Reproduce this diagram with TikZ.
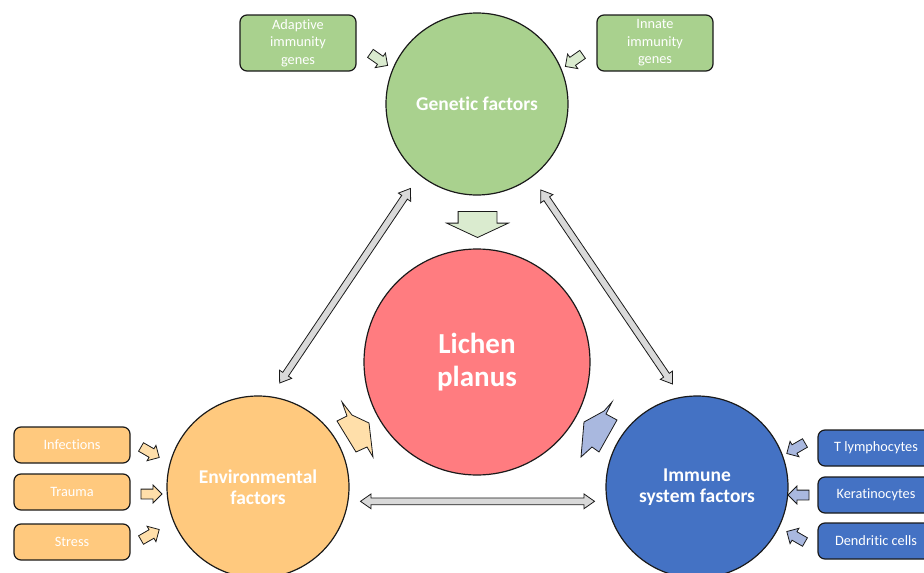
\documentclass[tikz,border=0pt]{standalone}
\usepackage{fontspec}
\setmainfont{Carlito}[Ligatures=NoCommon]
\usetikzlibrary{shapes.arrows, calc}

\definecolor{gengreen}{HTML}{A9D18E}
\definecolor{lichenred}{HTML}{FF7C80}
\definecolor{envorange}{HTML}{FFC97E}
\definecolor{immblue}{HTML}{4472C4}
\definecolor{palegreen}{HTML}{DAEBCF}
\definecolor{paleorange}{HTML}{FFDFAA}
\definecolor{paleblue}{HTML}{A9B8DF}
\definecolor{arrowgray}{HTML}{D9D9D9}
\definecolor{edge}{HTML}{1A1A1A}

\begin{document}
\begin{tikzpicture}[x=1pt, y=-1pt,
  factor/.style={circle, draw=edge, line width=1.2pt, minimum size=182pt, inner sep=0pt,
    text=white, align=center, font=\fontsize{19.5}{21}\selectfont\bfseries},
  cause/.style={rectangle, rounded corners=7pt, draw=edge, line width=1.2pt,
    minimum width=116pt, minimum height=36pt, inner sep=0pt, text=white, align=center,
    font=\fontsize{14.3}{17.5}\selectfont},
  push/.style={single arrow, draw=edge, line width=0.8pt, minimum height=21pt,
    single arrow head extend=4pt, inner xsep=0pt, inner ysep=4.5pt},
  both/.style={double arrow, draw=edge, fill=arrowgray, line width=0.8pt,
    double arrow head extend=4pt, double arrow tip angle=70, inner xsep=0pt, inner ysep=3pt}
]
\useasboundingbox (0,0) rectangle (924,573);

\node[factor, fill=gengreen] (gen) at (477,104) {Genetic factors};
\node[factor, fill=lichenred, minimum size=226pt, font=\fontsize{29}{33}\selectfont\bfseries] (lichen) at (477,362) {Lichen\\planus};
\node[factor, fill=envorange] (env) at (258,487) {Environmental\\factors};
\node[factor, fill=immblue] (imm) at (697,487) {Immune\\system factors};

\node[cause, fill=gengreen, minimum height=56pt] (adaptive) at (298,43) {Adaptive\\immunity\\genes};
\node[cause, fill=gengreen, minimum height=56pt] (innate) at (655,43) {Innate\\immunity\\genes};

\node[cause, fill=envorange] (infect) at (72,445) {Infections};
\node[cause, fill=envorange] (trauma) at (72,492) {Trauma};
\node[cause, fill=envorange] (stress) at (72,542) {Stress};

\node[cause, fill=immblue] (tlymph) at (876,448) {T lymphocytes};
\node[cause, fill=immblue] (kerat)  at (876,495) {Keratinocytes};
\node[cause, fill=immblue] (dendr)  at (876,541) {Dendritic cells};

\node[push, fill=palegreen, rotate=-35] (a1) at (377,58) {};
\node[push, fill=palegreen, rotate=215] (a2) at (576,59) {};
\node[push, fill=paleorange, rotate=-30] (a3) at (148,451) {};
\node[push, fill=paleorange] (a4) at (149,494) {};
\node[push, fill=paleorange, rotate=30] (a5) at (148,536) {};
\node[push, fill=paleblue, rotate=210] (a6) at (798,447) {};
\node[push, fill=paleblue, rotate=180] (a7) at (801,495) {};
\node[push, fill=paleblue, rotate=150] (a8) at (798,538) {};

\node[single arrow, draw=edge, fill=palegreen, line width=0.8pt, minimum height=26pt,
  single arrow head extend=11.5pt, single arrow tip angle=130, inner xsep=0pt, inner ysep=19pt, rotate=-90] (down) at (477.5,220) {};

\draw[edge, fill=paleorange, line width=0.8pt] (342,402) -- (352,415) -- (369,423) -- (373,457)
  -- (367,447) -- (356,452) -- (337,421) -- (347,416) -- cycle;
\draw[edge, fill=paleblue, line width=0.8pt] (612,402) -- (606,414) -- (617,420) -- (599,452)
  -- (592,447) -- (581,457) -- (584,422) -- (604,411) -- cycle;

\path let \p1=(env.82), \p2=(gen.231), \n1={atan2(\y2-\y1,\x2-\x1)}, \n2={veclen(\x2-\x1,\y2-\y1)-32}
  in node[both, rotate=\n1, minimum height=\n2] (envgen) at ($(\p1)!0.5!(\p2)$) {};
\path let \p1=(gen.-53), \p2=(imm.100), \n1={atan2(\y2-\y1,\x2-\x1)}, \n2={veclen(\x2-\x1,\y2-\y1)-31}
  in node[both, rotate=\n1, minimum height=\n2] (genimm) at ($(\p1)!0.5!(\p2)$) {};
\path let \p1=(env.-9), \p2=(imm.189), \n1={atan2(\y2-\y1,\x2-\x1)}, \n2={veclen(\x2-\x1,\y2-\y1)-24}
  in node[both, rotate=\n1, minimum height=\n2] (envimm) at ($(\p1)!0.5!(\p2)$) {};
\end{tikzpicture}
\end{document}
